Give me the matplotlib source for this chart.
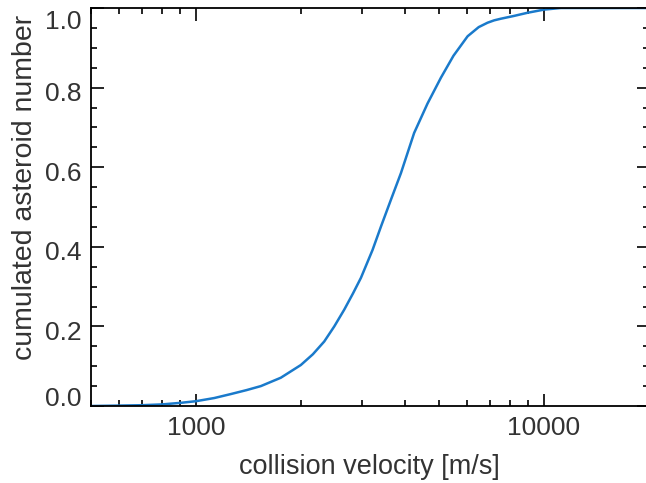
import matplotlib
matplotlib.use("Agg")
import matplotlib.pyplot as plt
import matplotlib.transforms as mtransforms
from matplotlib.ticker import FixedLocator, MultipleLocator, NullFormatter
from matplotlib import rcParams

rcParams["font.family"] = ["Liberation Sans", "DejaVu Sans"]

# ── Data ─────────────────────────────────────────────────────────────────────
velocity = [500, 600, 700, 800, 906, 1000, 1130, 1261, 1400, 1538, 1755, 2004,
            2170, 2339, 2500, 2670, 2830, 2982, 3220, 3405, 3650, 3885, 4240,
            4633, 5063, 5500, 6040, 6500, 6890, 7200, 7520, 8200, 8975,
            10020, 11190, 14000, 20000]
cum_frac = [0.0, 0.001, 0.002, 0.004, 0.008, 0.012, 0.020, 0.030, 0.040, 0.050,
            0.071, 0.103, 0.130, 0.162, 0.200, 0.242, 0.283, 0.322, 0.392,
            0.451, 0.522, 0.585, 0.686, 0.760, 0.825, 0.880, 0.929, 0.952,
            0.963, 0.969, 0.973, 0.980, 0.988, 0.996, 1.0, 1.0, 1.0]

x_ticks = [1000, 10000]
x_ticklabels = ["1000", "10000"]

# ── Figure ───────────────────────────────────────────────────────────────────
W, H = 646, 483
fig = plt.figure(figsize=(W / 100, H / 100), dpi=100)
ax = fig.add_axes([91 / W, 77 / H, 557.6 / W, 398 / H])

ax.plot(velocity, cum_frac, color="#1a7acb", linewidth=1.8,
        solid_joinstyle="round")

ax.set_xscale("log")
ax.set_xlim(500, 20000)
ax.set_ylim(0, 1.0)

ax.xaxis.set_major_locator(FixedLocator(x_ticks))
ax.set_xticklabels(x_ticklabels)
minors = [v * d for d in (100, 1000) for v in range(2, 10)
          if 500 <= v * d <= 20000 and v * d not in x_ticks]
ax.xaxis.set_minor_locator(FixedLocator(minors))
ax.xaxis.set_minor_formatter(NullFormatter())

ax.yaxis.set_major_locator(MultipleLocator(0.2))
ax.yaxis.set_minor_locator(MultipleLocator(0.05))
ax.yaxis.set_major_formatter(plt.FuncFormatter(lambda v, p: f"{v:.1f}"))

txt = "#333333"
ax.tick_params(which="both", direction="in", top=True, right=True,
               width=1.2, colors="black", labelcolor=txt, labelsize=19)
ax.tick_params(which="major", length=9, pad=7)
ax.tick_params(which="minor", length=4.5)
for s in ax.spines.values():
    s.set_linewidth(1.3)

# IDL-style y tick labels: sit a little below their ticks, ends kept inside
for lab in ax.get_yticklabels():
    val = lab.get_position()[1]
    if val <= 0.001:
        lab.set_va("baseline")
        dy = 0
    elif val >= 0.999:
        lab.set_va("baseline")
        dy = -21
    else:
        dy = -4
    lab.set_transform(lab.get_transform() +
                      mtransforms.ScaledTranslation(0, dy / 100, fig.dpi_scale_trans))

ax.set_xlabel("collision velocity [m/s]", fontsize=19.5, color=txt, labelpad=10)
ax.set_ylabel("cumulated asteroid number", fontsize=20.5, color=txt)
ax.yaxis.set_label_coords(-0.095, 0.55)

fig.savefig("out.png", dpi=100, facecolor="white")
